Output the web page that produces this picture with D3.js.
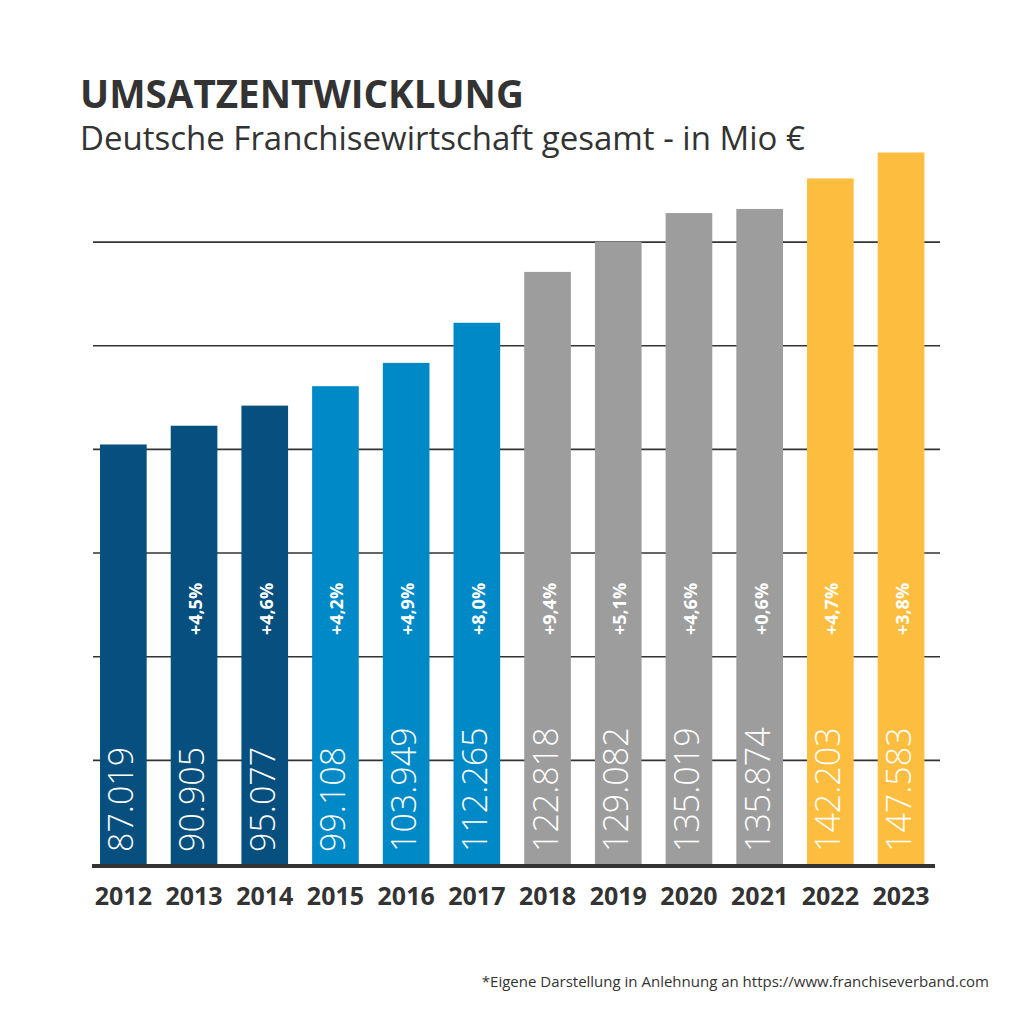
<!DOCTYPE html>
<html>
<head>
<meta charset="utf-8">
<script src="https://cdn.jsdelivr.net/npm/d3@7"></script>
<style>
  body { margin: 0; background: #fff; }
  svg text { font-family: "Open Sans", sans-serif; }
</style>
</head>
<body>
<div id="chart"></div>
<script>
// data
var years = ["2012", "2013", "2014", "2015", "2016", "2017", "2018", "2019", "2020", "2021", "2022", "2023"];
var revenue = [87019, 90905, 95077, 99108, 103949, 112265, 122818, 129082, 135019, 135874, 142203, 147583];
var revenueLabels = ["87.019", "90.905", "95.077", "99.108", "103.949", "112.265", "122.818", "129.082", "135.019", "135.874", "142.203", "147.583"];
var growth = ["", "+4,5%", "+4,6%", "+4,2%", "+4,9%", "+8,0%", "+9,4%", "+5,1%", "+4,6%", "+0,6%", "+4,7%", "+3,8%"];
var groups = ["dark", "dark", "dark", "light", "light", "light", "grey", "grey", "grey", "grey", "yellow", "yellow"];
var gridValues = [21500, 43000, 64500, 86000, 107500, 129000];

var colors = { dark: "#074f7e", light: "#0089c7", grey: "#9d9d9d", yellow: "#fdbd3e" };

var svgWidth = 1024, svgHeight = 1024;
var svg = d3.select("#chart").append("svg")
    .attr("width", svgWidth)
    .attr("height", svgHeight);

var x = d3.scaleBand().domain(years).range([88, 936.4]).paddingInner(0.34).paddingOuter(0.17);
var y = d3.scaleLinear().domain([0, 150000]).range([864, 864 - 150000 * 0.004821]);

// title
svg.append("text")
    .attr("x", 80).attr("y", 108)
    .attr("font-size", 38.6).attr("font-weight", 700)
    .attr("fill", "#333")
    .text("UMSATZENTWICKLUNG");

svg.append("text")
    .attr("x", 80).attr("y", 150)
    .attr("font-size", 33).attr("font-weight", 400)
    .attr("fill", "#333")
    .text("Deutsche Franchisewirtschaft gesamt - in Mio €");

// gridlines
svg.append("g")
  .selectAll("line")
  .data(gridValues)
  .join("line")
    .attr("x1", 93).attr("x2", 940)
    .attr("y1", d => y(d)).attr("y2", d => y(d))
    .attr("stroke", "#333")
    .attr("stroke-width", 1.6);

// bars
var bars = svg.append("g")
  .selectAll("g")
  .data(years)
  .join("g");

bars.append("rect")
    .attr("x", d => x(d))
    .attr("width", x.bandwidth())
    .attr("y", (d, i) => y(revenue[i]))
    .attr("height", (d, i) => y(0) - y(revenue[i]))
    .attr("fill", (d, i) => colors[groups[i]]);

// values, rotated
bars.append("text")
    .attr("transform", d => "translate(" + (x(d) + x.bandwidth() / 2 + 10) + "," + 852 + ") rotate(-90)")
    .attr("font-size", 34).attr("font-weight", 350)
    .attr("fill", "#fff")
    .text((d, i) => revenueLabels[i]);

// growth rates
bars.append("text")
    .attr("transform", d => "translate(" + (x(d) + x.bandwidth() / 2 + 8) + "," + 609 + ") rotate(-90)")
    .attr("text-anchor", "middle")
    .attr("font-size", 18).attr("font-weight", 700)
    .attr("fill", "#fff")
    .text((d, i) => growth[i]);

// baseline
svg.append("line")
    .attr("x1", 92).attr("x2", 935)
    .attr("y1", 866).attr("y2", 866)
    .attr("stroke", "#333")
    .attr("stroke-width", 4);

// year axis
var xAxis = svg.append("g")
    .attr("transform", "translate(0,866)")
    .call(d3.axisBottom(x).tickSize(0).tickPadding(0));
xAxis.select(".domain").remove();
xAxis.selectAll("text")
    .attr("y", 39).attr("dy", null)
    .attr("font-size", 25).attr("font-weight", 700)
    .attr("font-family", "Open Sans, sans-serif")
    .attr("fill", "#333");

// source
svg.append("text")
    .attr("x", 989).attr("y", 987)
    .attr("text-anchor", "end")
    .attr("font-size", 15)
    .attr("fill", "#333")
    .text("*Eigene Darstellung in Anlehnung an https://www.franchiseverband.com");
</script>
</body>
</html>
